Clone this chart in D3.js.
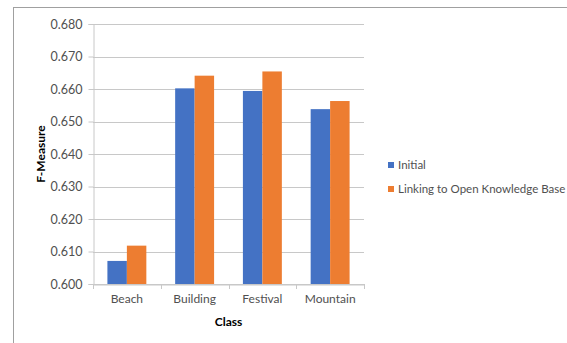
<!DOCTYPE html>
<html><head><meta charset="utf-8">
<script src="https://cdn.jsdelivr.net/npm/d3@7"></script>
<style>body{margin:0;background:#fff;} svg{display:block;}</style>
</head><body>
<script>
const categories = ["Beach", "Building", "Festival", "Mountain"];
const seriesNames = ["Initial", "Linking to Open Knowledge Base"];
const initialValues = [0.6071, 0.6602, 0.6594, 0.6538];
const linkingValues = [0.6118, 0.6641, 0.6654, 0.6563];
const yTicks = [0.600, 0.610, 0.620, 0.630, 0.640, 0.650, 0.660, 0.670, 0.680];
const colors = ["#4472C4", "#ED7D31"];

(function () {
const W = 567, H = 343;
const svg = d3.select("body").append("svg").attr("width", W).attr("height", H);
const font = "Lato, sans-serif";

// outer frame (top and left visible)
svg.append("line").attr("x1", 13).attr("x2", W).attr("y1", 7.5).attr("y2", 7.5).attr("stroke", "#a0a0a0");
svg.append("line").attr("x1", 13.5).attr("x2", 13.5).attr("y1", 7).attr("y2", H).attr("stroke", "#a0a0a0");

const pL = 93, pR = 364, pT = 24, pB = 284;
const y = d3.scaleLinear().domain([0.600, 0.680]).range([pB, pT]);
const x0 = d3.scaleBand().domain(categories).range([pL, pR]).padding(0);
const x1 = d3.scaleBand().domain(seriesNames).range([0, x0.bandwidth()]).paddingInner(0).paddingOuter(0.74);

// gridlines
svg.append("g").selectAll("line").data(yTicks).join("line")
  .attr("x1", pL).attr("x2", pR)
  .attr("y1", d => Math.round(y(d)) + 0.5).attr("y2", d => Math.round(y(d)) + 0.5)
  .attr("stroke", "#c8c8c8");

// y axis tick labels + tick marks
const yAxis = d3.axisLeft(y).tickValues(yTicks).tickFormat(d3.format(".3f")).tickSize(5).tickPadding(6);
const gy = svg.append("g").attr("transform", `translate(${pL + 0.5},0)`).call(yAxis);
gy.select(".domain").attr("stroke", "#c8c8c8");
gy.selectAll(".tick line").attr("stroke", "#c8c8c8");
gy.selectAll(".tick text").attr("font-family", font).attr("font-size", 12.5).attr("fill", "#505050");

// bars
const data = categories.map((c, i) => ({cat: c, vals: [initialValues[i], linkingValues[i]]}));
svg.append("g").selectAll("g").data(data).join("g")
  .attr("transform", d => `translate(${x0(d.cat)},0)`)
  .selectAll("rect").data(d => d.vals.map((v, j) => ({name: seriesNames[j], v, j})))
  .join("rect")
  .attr("x", d => x1(d.name)).attr("width", x1.bandwidth())
  .attr("y", d => y(d.v)).attr("height", d => y(0.600) - y(d.v))
  .attr("fill", d => colors[d.j]);

// x axis
const xAxis = d3.axisBottom(x0).tickSize(0).tickPadding(10);
const gx = svg.append("g").attr("transform", `translate(0,${pB + 0.5})`).call(xAxis);
gx.select(".domain").attr("stroke", "#c8c8c8");
gx.selectAll(".tick text").attr("font-family", font).attr("font-size", 12).attr("fill", "#505050");
// category boundary ticks
const bounds = categories.map(c => x0(c)).concat([x0.range()[1]]);
svg.append("g").selectAll("line").data(bounds).join("line")
  .attr("x1", d => Math.round(d) + 0.5).attr("x2", d => Math.round(d) + 0.5)
  .attr("y1", pB).attr("y2", pB + 5).attr("stroke", "#c8c8c8");

// axis titles
svg.append("text").attr("x", (pL + pR) / 2).attr("y", 326).attr("text-anchor", "middle")
  .attr("font-family", font).attr("font-weight", "bold").attr("font-size", 12).attr("fill", "#000").text("Class");
svg.append("text").attr("transform", `translate(45,${(pT + pB) / 2}) rotate(-90)`).attr("text-anchor", "middle")
  .attr("font-family", font).attr("font-weight", "bold").attr("font-size", 12).attr("fill", "#000").text("F-Measure");

// legend
const lg = svg.append("g").selectAll("g").data(seriesNames).join("g")
  .attr("transform", (d, i) => `translate(388,${165 + i * 24})`);
lg.append("rect").attr("x", 0).attr("y", -3).attr("width", 6).attr("height", 6).attr("fill", (d, i) => colors[i]);
lg.append("text").attr("x", 10).attr("y", 0).attr("dy", "0.35em")
  .attr("font-family", font).attr("font-size", 11.5).attr("fill", "#505050").text(d => d);
})();
</script>
</body></html>
